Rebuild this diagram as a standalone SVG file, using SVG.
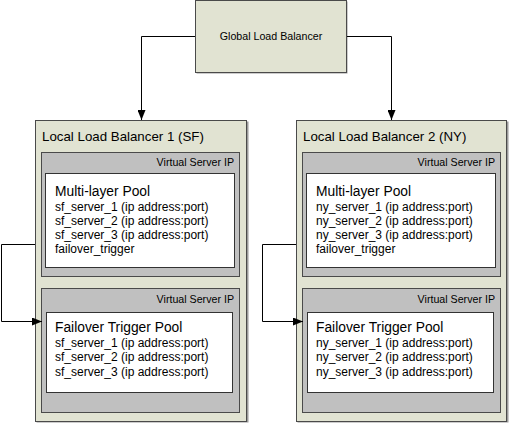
<svg xmlns="http://www.w3.org/2000/svg" width="509" height="424" viewBox="0 0 509 424">
<style>
  text { font-family: "Liberation Sans", Arial, sans-serif; fill: #000; }
  .lb { fill: #e1e3d2; stroke: #4a4a4a; stroke-width: 1; }
  .shadow { fill: #9a9a9a; }
  .vs { fill: #c0c0c0; stroke: #4a4a4a; stroke-width: 1; }
  .pool { fill: #ffffff; stroke: #333; stroke-width: 1; }
  .small { font-size: 10.67px; }
  .vsl { font-size: 10.67px; text-anchor: end; }
  .title { font-size: 13.3px; }
  .ptitle { font-size: 13.8px; }
  .item { font-size: 12px; }
  .conn { fill: none; stroke: #000; stroke-width: 1; }
</style>
<defs>
  <marker id="arr" viewBox="0 0 10 8" refX="10" refY="4" markerWidth="10" markerHeight="8" markerUnits="userSpaceOnUse" orient="auto">
    <path d="M0,0 L10,4 L0,8 z" fill="#000"/>
  </marker>
</defs>
<rect width="509" height="424" fill="#ffffff"/>

<g id="global-lb">
  <rect class="shadow" x="196.5" y="1.5" width="151" height="72"/>
  <rect class="lb" x="195.5" y="0.5" width="151" height="72"/>
  <text class="small" x="271" y="39.8" text-anchor="middle">Global Load Balancer</text>
</g>

<g id="lb1">
  <rect class="shadow" x="36.5" y="121.5" width="212" height="301"/>
  <rect class="lb" x="35.5" y="120.5" width="211" height="301"/>
  <text class="title" x="42" y="140.5">Local Load Balancer 1 (SF)</text>
</g>
<g id="lb1-vs1">
  <rect class="vs" x="41.5" y="152.5" width="198" height="124"/>
  <text class="vsl" x="234" y="166">Virtual Server IP</text>
</g>
<g id="lb1-multilayer-pool">
  <rect class="pool" x="45.5" y="173.5" width="189" height="94"/>
  <text class="ptitle" x="55" y="195.5">Multi-layer Pool</text>
  <text class="item" x="55" y="210.5">sf_server_1 (ip address:port)</text>
  <text class="item" x="55" y="224.8">sf_server_2 (ip address:port)</text>
  <text class="item" x="55" y="239.1">sf_server_3 (ip address:port)</text>
  <text class="item" x="55" y="253.4">failover_trigger</text>
</g>
<g id="lb1-vs2">
  <rect class="vs" x="41.5" y="288.5" width="198" height="124"/>
  <text class="vsl" x="234" y="303">Virtual Server IP</text>
</g>
<g id="lb1-failover-pool">
  <rect class="pool" x="46.5" y="312.5" width="186" height="80"/>
  <text class="ptitle" x="55" y="332">Failover Trigger Pool</text>
  <text class="item" x="55" y="347">sf_server_1 (ip address:port)</text>
  <text class="item" x="55" y="361.4">sf_server_2 (ip address:port)</text>
  <text class="item" x="55" y="375.8">sf_server_3 (ip address:port)</text>
</g>

<g id="lb2">
  <rect class="shadow" x="297.5" y="121.5" width="211" height="301"/>
  <rect class="lb" x="296.5" y="120.5" width="210" height="301"/>
  <text class="title" x="303" y="140.5">Local Load Balancer 2 (NY)</text>
</g>
<g id="lb2-vs1">
  <rect class="vs" x="302.5" y="152.5" width="198" height="124"/>
  <text class="vsl" x="495" y="166">Virtual Server IP</text>
</g>
<g id="lb2-multilayer-pool">
  <rect class="pool" x="306.5" y="173.5" width="189" height="94"/>
  <text class="ptitle" x="316" y="195.5">Multi-layer Pool</text>
  <text class="item" x="316" y="210.5">ny_server_1 (ip address:port)</text>
  <text class="item" x="316" y="224.8">ny_server_2 (ip address:port)</text>
  <text class="item" x="316" y="239.1">ny_server_3 (ip address:port)</text>
  <text class="item" x="316" y="253.4">failover_trigger</text>
</g>
<g id="lb2-vs2">
  <rect class="vs" x="302.5" y="288.5" width="198" height="124"/>
  <text class="vsl" x="495" y="303">Virtual Server IP</text>
</g>
<g id="lb2-failover-pool">
  <rect class="pool" x="307.5" y="312.5" width="186" height="80"/>
  <text class="ptitle" x="316" y="332">Failover Trigger Pool</text>
  <text class="item" x="316" y="347">ny_server_1 (ip address:port)</text>
  <text class="item" x="316" y="361.4">ny_server_2 (ip address:port)</text>
  <text class="item" x="316" y="375.8">ny_server_3 (ip address:port)</text>
</g>

<g id="connectors">
  <path class="conn" d="M195,36.5 H141.5 V120" marker-end="url(#arr)"/>
  <path class="conn" d="M347,36.5 H391.5 V120" marker-end="url(#arr)"/>
  <path class="conn" d="M35,244.5 H1.5 V321.5 H42" marker-end="url(#arr)"/>
  <path class="conn" d="M296,244.5 H262.5 V321.5 H303" marker-end="url(#arr)"/>
</g>
</svg>
